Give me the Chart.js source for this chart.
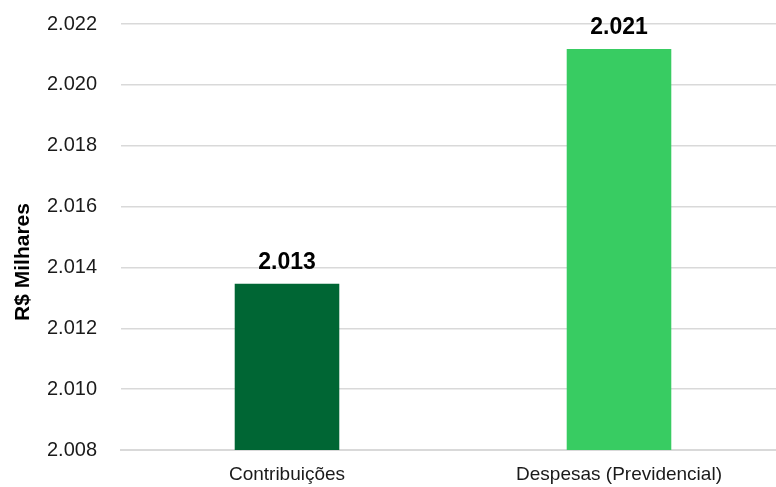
<!DOCTYPE html>
<html>
<head>
<meta charset="utf-8">
<script src="https://cdn.jsdelivr.net/npm/chart.js@4/dist/chart.umd.min.js"></script>
<style>
  html, body { margin: 0; padding: 0; background: #fff; overflow: hidden; }
  #wrap { width: 786px; height: 487px; }
</style>
</head>
<body>
<div id="wrap"><canvas id="chart"></canvas></div>
<script>
const categories = ['Contribuições', 'Despesas (Previdencial)'];
const values = [2013.46, 2021.18];
const barColors = ['#006634', '#38cc62'];
const yMin = 2008;
const yMax = 2022;
const yStep = 2;
const yTitle = 'R$ Milhares';

const FONT = '"Liberation Sans", Arial, sans-serif';

// 2022 -> "2.022"
function fmt(v) {
  const n = Math.round(v).toString();
  return n.replace(/\B(?=(\d{3})+(?!\d))/g, '.');
}

const barLabels = {
  id: 'barLabels',
  afterDatasetsDraw(chart) {
    const ctx = chart.ctx;
    const meta = chart.getDatasetMeta(0);
    ctx.save();
    ctx.font = 'bold 23px ' + FONT;
    ctx.fillStyle = '#000';
    ctx.textAlign = 'center';
    ctx.textBaseline = 'alphabetic';
    meta.data.forEach((bar, i) => {
      ctx.fillText(fmt(values[i]), bar.x, bar.y - 15);
    });
    ctx.restore();
  }
};

const axisTitle = {
  id: 'axisTitle',
  afterDraw(chart) {
    const ctx = chart.ctx;
    ctx.save();
    ctx.translate(23, 262);
    ctx.rotate(-Math.PI / 2);
    ctx.font = 'bold 21px ' + FONT;
    ctx.fillStyle = '#000';
    ctx.textAlign = 'center';
    ctx.textBaseline = 'middle';
    ctx.fillText(yTitle, 0, 0);
    ctx.restore();
  }
};

new Chart(document.getElementById('chart'), {
  type: 'bar',
  data: {
    labels: categories,
    datasets: [{
      data: values,
      backgroundColor: barColors,
      barPercentage: 0.63,
      categoryPercentage: 0.5
    }]
  },
  options: {
    responsive: true,
    maintainAspectRatio: false,
    animation: false,
    layout: { padding: { top: 24, right: 1, left: 0, bottom: 0 } },
    plugins: {
      legend: { display: false },
      tooltip: { enabled: false }
    },
    scales: {
      x: {
        grid: { display: false },
        border: { display: true, color: '#d9d9d9', width: 2 },
        ticks: { color: '#1a1a1a', font: { family: FONT, size: 19 }, padding: 5 },
        afterFit(s) { s.height = 37; }
      },
      y: {
        min: yMin,
        max: yMax,
        border: { display: false },
        grid: { color: '#d9d9d9', lineWidth: 1.5, drawTicks: false },
        ticks: {
          stepSize: yStep,
          color: '#1a1a1a',
          font: { family: FONT, size: 20 },
          padding: 24,
          callback: v => fmt(v)
        },
        afterFit(s) { s.width = 121; s.paddingTop = 0; s.paddingBottom = 0; }
      }
    }
  },
  plugins: [barLabels, axisTitle]
});
</script>
</body>
</html>
